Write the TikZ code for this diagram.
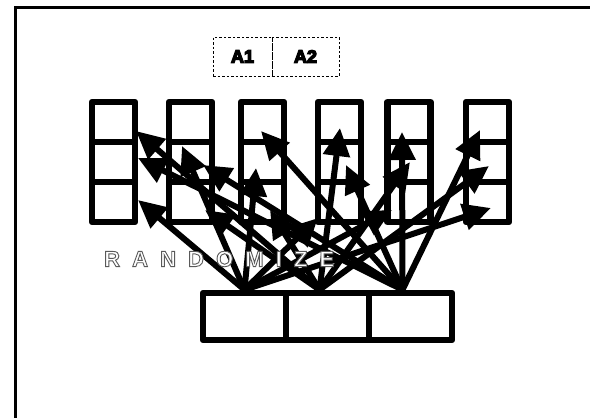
\documentclass[tikz,border=0pt]{standalone}
\usepackage{fontspec}
\setmainfont{Liberation Sans}
\newfontfamily\spacedfont[LetterSpace=55]{Liberation Sans Bold}
\usepackage{tikz}
\usetikzlibrary{arrows.meta,calc}
% stroked text: fill in the current colour, edge in grey value #1, width #2
\newcommand{\edged}[3]{\special{pdf:literal direct 2 Tr #2 w #1 G}#3\special{pdf:literal direct 0 Tr}}

\begin{document}
\begin{tikzpicture}[x=1pt,y=-1pt,
        cell/.style={draw, line width=6.5pt, line join=round, minimum width=43pt, minimum height=40pt, inner sep=0pt},
        slot/.style={draw, line width=6.5pt, line join=round, minimum width=83pt, minimum height=47pt, inner sep=0pt},
        tag/.style={draw, dash pattern=on 2.5pt off 2pt, line width=0.9pt, minimum height=39pt, inner sep=0pt, font=\fontsize{18}{18}\selectfont\bfseries},
        shuffle/.style={line width=6pt, -{Triangle[length=28pt,width=26pt]}},
        word/.style={anchor=west, inner sep=0pt, font=\fontsize{22}{22}\selectfont\spacedfont}]
        \useasboundingbox (0,0) rectangle (590,418);

        % Outer frame
        \draw[line width=3pt] (15,7.5) rectangle (620,440);

        % Dashed labels on top
        \node[tag, minimum width=59pt] (a1) at (242.5,56.5) {\edged{0}{1.3}{A1}};
        \node[tag, minimum width=67pt] (a2) at (305.5,56.5) {\edged{0}{1.3}{A2}};

        % Six columns of three cells
        \node[cell] (c1r1) at (113.5,122) {};
        \node[cell] (c1r2) at (113.5,162) {};
        \node[cell] (c1r3) at (113.5,202) {};
        \node[cell] (c2r1) at (190.5,122) {};
        \node[cell] (c2r2) at (190.5,162) {};
        \node[cell] (c2r3) at (190.5,202) {};
        \node[cell] (c3r1) at (262.5,122) {};
        \node[cell] (c3r2) at (262.5,162) {};
        \node[cell] (c3r3) at (262.5,202) {};
        \node[cell] (c4r1) at (339.5,122) {};
        \node[cell] (c4r2) at (339.5,162) {};
        \node[cell] (c4r3) at (339.5,202) {};
        \node[cell] (c5r1) at (409,122) {};
        \node[cell] (c5r2) at (409,162) {};
        \node[cell] (c5r3) at (409,202) {};
        \node[cell] (c6r1) at (487.5,122) {};
        \node[cell] (c6r2) at (487.5,162) {};
        \node[cell] (c6r3) at (487.5,202) {};

        % Bottom row of three slots
        \node[slot] (b1) at (244.5,316.5) {};
        \node[slot] (b2) at (327.5,316.5) {};
        \node[slot] (b3) at (410.5,316.5) {};

        % Arrows from the slots into the cells
        \draw[shuffle] ($(b2.north)+(-8,0)$) -- ($(c1r1)+(22.5,9)$);
        \draw[shuffle] ($(b3.north)+(-8,0)$) -- ($(c1r2)+(24.5,-4)$);
        \draw[shuffle] (b1.north) -- ($(c1r3)+(24.5,-2)$);
        \draw[shuffle] (b1.north) -- ($(c2r2)+(-8.5,-16)$);
        \draw[shuffle] ($(b3.north)+(-8,0)$) -- ($(c2r2)+(12.5,3)$);
        \draw[shuffle] ($(b2.north)+(-8,0)$) -- ($(c2r3)+(14.5,8)$);
        \draw[shuffle] ($(b3.north)+(-8,0)$) -- ($(c3r1)+(-1.5,9)$);
        \draw[shuffle] (b1.north) -- ($(c3r2)+(-6.5,6)$);
        \draw[shuffle] ($(b2.north)+(-8,0)$) -- ($(c3r3)+(7.5,8)$);
        \draw[shuffle] ($(b2.north)+(-8,0)$) -- ($(c4r1)+(0.5,6)$);
        \draw[shuffle] ($(b3.north)+(-8,0)$) -- ($(c4r2)+(6.5,3)$);
        \draw[shuffle] (b1.north) -- ($(c4r3)+(-21.5,16)$);
        \draw[shuffle] ($(b3.north)+(-8,0)$) -- ($(c5r1)+(-7,10)$);
        \draw[shuffle] ($(b2.north)+(-8,0)$) -- ($(c5r2)+(1,0)$);
        \draw[shuffle] (b1.north) -- ($(c5r3)+(-17,8)$);
        \draw[shuffle] ($(b3.north)+(-8,0)$) -- ($(c6r1)+(-7.5,8)$);
        \draw[shuffle] ($(b2.north)+(-8,0)$) -- ($(c6r2)+(1.5,4)$);
        \draw[shuffle] (b1.north) -- ($(c6r3)+(3.5,6)$);

        % Word over the arrows, white with a grey edge
        \node[word, text=white] (rnd) at (104,259) {\edged{0.35}{0.9}{RANDOMIZE}};
\end{tikzpicture}
\end{document}
